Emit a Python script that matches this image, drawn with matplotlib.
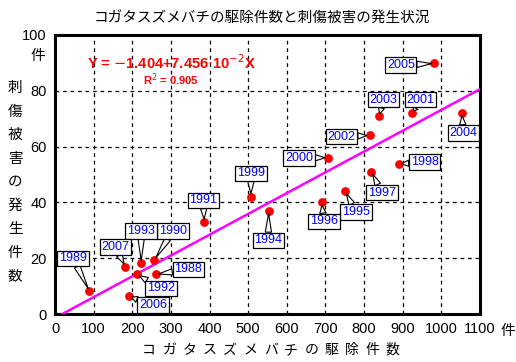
import matplotlib
matplotlib.use("Agg")
import matplotlib.pyplot as plt
import numpy as np

years = ["1988","1989","1990","1991","1992","1993","1994","1995","1996","1997",
         "1998","1999","2000","2001","2002","2003","2004","2005","2006","2007"]
removals = [261, 89, 257, 386, 212, 223, 553, 751, 690, 819,
            890, 507, 706, 925, 814, 839, 1053, 982, 191, 182]
injuries = [14.2, 8.2, 19.3, 33, 14.2, 18.2, 37, 44, 40, 51,
            53.8, 42.1, 56, 72.1, 64, 70.8, 72.1, 89.8, 6.3, 17]
label_x = [345, 47, 305, 384, 274, 223, 552, 779, 696, 846,
           957, 507, 632, 946, 742, 850, 1057, 895, 254, 156]
label_y = [16, 19.9, 29.8, 40.7, 9.2, 29.8, 26.4, 36.5, 33.2, 43.5,
           54.4, 50.4, 56, 76.8, 63.6, 76.8, 64.9, 89.2, 3.2, 24]
intercept = -1.404
slope = 7.456e-2
r2 = 0.905
xticks = list(range(0, 1101, 100))
yticks = list(range(0, 101, 20))

JP = ['Noto Sans CJK JP', 'DejaVu Sans']
NUM = ['Liberation Sans', 'DejaVu Sans']

fig = plt.figure(figsize=(5.16, 3.62), dpi=100)
ax = fig.add_axes([55/516, 1-314/362, (480-55)/516, (314-35)/362])
ax.set_xlim(0, 1100)
ax.set_ylim(0, 100)
ax.set_xticks(xticks)
ax.set_yticks(yticks)
ax.set_xticklabels([str(v) for v in xticks], fontfamily=NUM, fontsize=10.5)
ax.set_yticklabels([str(v) for v in yticks], fontfamily=NUM, fontsize=10.5)
ax.tick_params(length=0, pad=6)
ax.grid(True, color='black', linestyle=(0, (3, 3)), linewidth=0.9)
for s in ax.spines.values():
    s.set_linewidth(2.2)

x0 = -intercept / slope
xl = np.array([x0, 1100])
ax.plot(xl, intercept + slope * xl, color='#ff00ff', linewidth=1.8, zorder=3)

ax.scatter(removals, injuries, s=28, color='red', zorder=5)

for yr, px, py, lx, ly in zip(years, removals, injuries, label_x, label_y):
    ax.annotate(yr, xy=(px, py), xytext=(lx, ly), ha='center', va='center',
                fontsize=9, color='blue', fontfamily=NUM,
                bbox=dict(boxstyle='square,pad=0.14', fc='white', ec='black', lw=0.9),
                arrowprops=dict(arrowstyle='wedge,tail_width=0.5', fc='white', ec='black',
                                lw=0.8, shrinkA=0, shrinkB=2),
                zorder=6)

ax.text(300, 90, r'Y = $-$1.404+7.456$\cdot$10$^{-2}$X', color='red', fontsize=10.5,
        fontweight='bold', fontfamily=NUM, ha='center', va='center')
ax.text(300, 84, r'R$^{2}$ = 0.905', color='red', fontsize=8,
        fontweight='bold', fontfamily=NUM, ha='center', va='center')

fig.text(262/516, 1-18/362, 'コガタスズメバチの駆除件数と刺傷被害の発生状況',
         fontfamily=JP, fontsize=10.5, ha='center', va='center')
fig.text(38/516, 1-56/362, '件', fontfamily=JP, fontsize=10.5, ha='center', va='center')
fig.text(508/516, 1-331/362, '件', fontfamily=JP, fontsize=10.5, ha='center', va='center')
ychars = '刺傷被害の発生件数'
for i, ch in enumerate(ychars):
    fig.text(15/516, 1-(88 + i*23.5)/362, ch, fontfamily=JP, fontsize=10.5,
             ha='center', va='center')
xchars = 'コガタスズメバチの駆除件数'
for i, ch in enumerate(xchars):
    fig.text((149 + i*20.3)/516, 1-350/362, ch, fontfamily=JP, fontsize=10,
             ha='center', va='center')

fig.savefig('out.png', dpi=100)
